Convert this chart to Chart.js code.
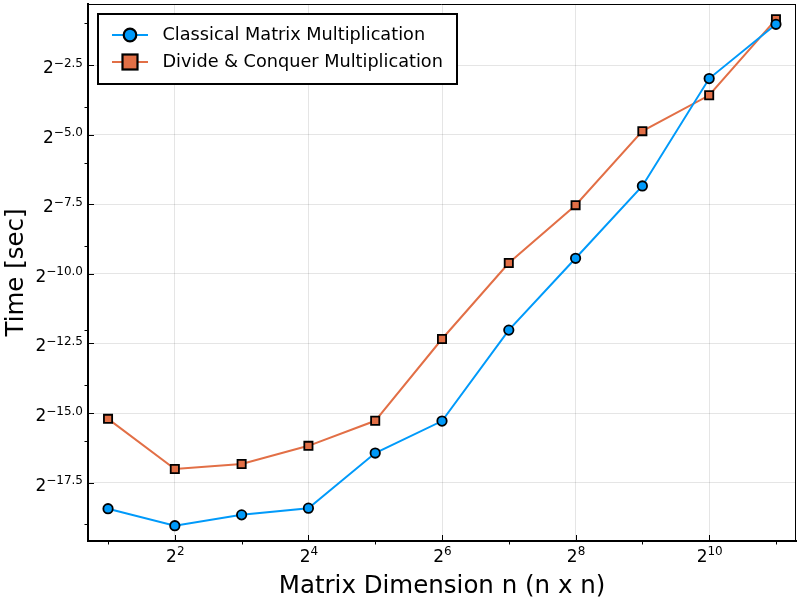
<!DOCTYPE html>
<html><head><meta charset="utf-8">
<script src="https://cdn.jsdelivr.net/npm/chart.js@4.4.1/dist/chart.umd.min.js"></script>
<style>html,body{margin:0;padding:0;background:#fff}canvas{display:block}</style>
</head><body>
<canvas id="c" width="800" height="600"></canvas>
<script>
// ---- data ----
const matrixSizes = [2, 4, 8, 16, 32, 64, 128, 256, 512, 1024, 2048];
const classicalTimes = [2.812e-6, 1.842e-6, 2.414e-6, 2.851e-6, 1.125e-5, 2.496e-5, 2.408e-4, 1.440e-3, 8.729e-3, 0.1267, 0.4897];
const divideConquerTimes = [2.638e-5, 7.577e-6, 8.584e-6, 1.347e-5, 2.513e-5, 1.929e-4, 1.280e-3, 5.411e-3, 0.03420, 0.08362, 0.5548];
const seriesNames = ['Classical Matrix Multiplication', 'Divide & Conquer Multiplication'];
const xMajorExps = [2, 4, 6, 8, 10];
const xMajorLabels = ['2', '4', '6', '8', '10'];
const xMinorExps = [1, 3, 5, 7, 9, 11];
const yMajorExps = [-2.5, -5.0, -7.5, -10.0, -12.5, -15.0, -17.5];
const yMajorLabels = ['\u22122.5', '\u22125.0', '\u22127.5', '\u221210.0', '\u221212.5', '\u221215.0', '\u221217.5'];
const yMinorExps = [-1, -4, -6, -9, -12, -14, -16, -19];

const FONT = "'DejaVu Sans', sans-serif";
const BLUE = '#009AFA';
const ORANGE = '#E26F46';

const decor = {
  id: 'decor',
  afterDraw(chart) {
    const {ctx, chartArea: a, scales: {x, y}} = chart;
    ctx.save();
    const seg = (x1, y1, x2, y2) => { ctx.beginPath(); ctx.moveTo(x1, y1); ctx.lineTo(x2, y2); ctx.stroke(); };
    // frame top / right
    ctx.strokeStyle = '#000';
    ctx.lineWidth = 1;
    seg(a.left, a.top + 0.5, a.right - 0.5, a.top + 0.5);
    seg(a.right - 0.5, a.top, a.right - 0.5, a.bottom);
    // tick marks
    xMajorExps.forEach(e => { const p = Math.round(x.getPixelForValue(Math.pow(2, e))) + 0.5; seg(p, a.bottom, p, a.bottom - 6); });
    xMinorExps.forEach(e => { const p = Math.round(x.getPixelForValue(Math.pow(2, e))) + 0.5; seg(p, a.bottom, p, a.bottom + 3.5); });
    yMajorExps.forEach(e => { const p = Math.round(y.getPixelForValue(Math.pow(2, e))) + 0.5; seg(a.left, p, a.left + 6, p); });
    yMinorExps.forEach(e => { const p = Math.round(y.getPixelForValue(Math.pow(2, e))) + 0.5; seg(a.left, p, a.left - 3.5, p); });
    // tick labels with superscripts
    ctx.fillStyle = '#000';
    ctx.textBaseline = 'alphabetic';
    ctx.textAlign = 'left';
    const baseFont = '17px ' + FONT, supFont = '12px ' + FONT;
    xMajorExps.forEach((e, i) => {
      const p = x.getPixelForValue(Math.pow(2, e));
      ctx.font = baseFont; const bw = ctx.measureText('2').width;
      ctx.font = supFont; const sw = ctx.measureText(xMajorLabels[i]).width;
      const x0 = p - (bw + sw) / 2 + 0.5;
      ctx.font = baseFont; ctx.fillText('2', x0, a.bottom + 21);
      ctx.font = supFont; ctx.fillText(xMajorLabels[i], x0 + bw, a.bottom + 14);
    });
    yMajorExps.forEach((e, i) => {
      const p = y.getPixelForValue(Math.pow(2, e));
      ctx.font = baseFont; const bw = ctx.measureText('2').width;
      ctx.font = supFont; const sw = ctx.measureText(yMajorLabels[i]).width;
      const right = a.left - 5;
      ctx.font = supFont; ctx.fillText(yMajorLabels[i], right - sw, p + 1.5);
      ctx.font = baseFont; ctx.fillText('2', right - sw - bw, p + 8);
    });
    // legend
    ctx.fillStyle = '#fff';
    ctx.fillRect(98, 14, 359, 70);
    ctx.lineWidth = 2;
    ctx.strokeStyle = '#000';
    ctx.strokeRect(98, 14, 359, 70);
    const rows = [35, 62];
    // row 1
    ctx.lineWidth = 2;
    ctx.strokeStyle = BLUE;
    seg(112, rows[0], 148, rows[0]);
    ctx.beginPath(); ctx.arc(130, rows[0], 6.3, 0, Math.PI * 2);
    ctx.fillStyle = BLUE; ctx.fill(); ctx.strokeStyle = '#000'; ctx.lineWidth = 2.2; ctx.stroke();
    // row 2
    ctx.lineWidth = 2;
    ctx.strokeStyle = ORANGE;
    seg(112, rows[1], 148, rows[1]);
    ctx.fillStyle = ORANGE; ctx.fillRect(122.5, rows[1] - 7.5, 15, 15);
    ctx.strokeStyle = '#000'; ctx.lineWidth = 2.2; ctx.strokeRect(122.5, rows[1] - 7.5, 15, 15);
    ctx.fillStyle = '#000';
    ctx.font = '17.7px ' + FONT;
    ctx.textBaseline = 'middle';
    ctx.fillText(seriesNames[0], 162.5, rows[0] + 0.5);
    ctx.fillText(seriesNames[1], 162.5, rows[1] + 0.5);
    ctx.restore();
  }
};

new Chart(document.getElementById('c'), {
  type: 'line',
  data: {
    datasets: [
      {
        label: seriesNames[0],
        data: matrixSizes.map((n, i) => ({x: n, y: classicalTimes[i]})),
        borderColor: BLUE, backgroundColor: BLUE, borderWidth: 2,
        pointStyle: 'circle', pointRadius: 4.7, pointBorderWidth: 1.8,
        pointBorderColor: '#000', pointBackgroundColor: BLUE, tension: 0
      },
      {
        label: seriesNames[1],
        data: matrixSizes.map((n, i) => ({x: n, y: divideConquerTimes[i]})),
        borderColor: ORANGE, backgroundColor: ORANGE, borderWidth: 2,
        pointStyle: 'rect', pointRadius: 5.8, pointBorderWidth: 1.8,
        pointBorderColor: '#000', pointBackgroundColor: ORANGE, tension: 0
      }
    ]
  },
  options: {
    responsive: false,
    animation: false,
    layout: {autoPadding: false, padding: {top: 4, right: 4, left: 0, bottom: 0}},
    plugins: {legend: {display: false}, tooltip: {enabled: false}},
    scales: {
      x: {
        type: 'logarithmic', position: 'bottom',
        min: Math.pow(2, 0.7), max: Math.pow(2, 11.3),
        afterBuildTicks: s => { s.ticks = xMajorExps.map(e => ({value: Math.pow(2, e)})); },
        afterFit: s => { s.height = 59; },
        ticks: {display: false},
        grid: {color: 'rgba(0,0,0,0.1)', lineWidth: 1, drawTicks: false},
        border: {display: true, color: '#000', width: 2},
        title: {display: true, text: 'Matrix Dimension n (n x n)', color: '#000',
                font: {family: FONT, size: 24.5, lineHeight: 1.1}, padding: {top: 0, bottom: 0}}
      },
      y: {
        type: 'logarithmic', position: 'left',
        min: Math.pow(2, -19.6), max: Math.pow(2, -0.3),
        afterBuildTicks: s => { s.ticks = yMajorExps.map(e => ({value: Math.pow(2, e)})); },
        afterFit: s => { s.width = 88; },
        ticks: {display: false},
        grid: {color: 'rgba(0,0,0,0.1)', lineWidth: 1, drawTicks: false},
        border: {display: true, color: '#000', width: 2},
        title: {display: true, text: 'Time [sec]', color: '#000',
                font: {family: FONT, size: 24.5}, padding: {top: 2, bottom: 0}}
      }
    }
  },
  plugins: [decor]
});
</script>
</body></html>
